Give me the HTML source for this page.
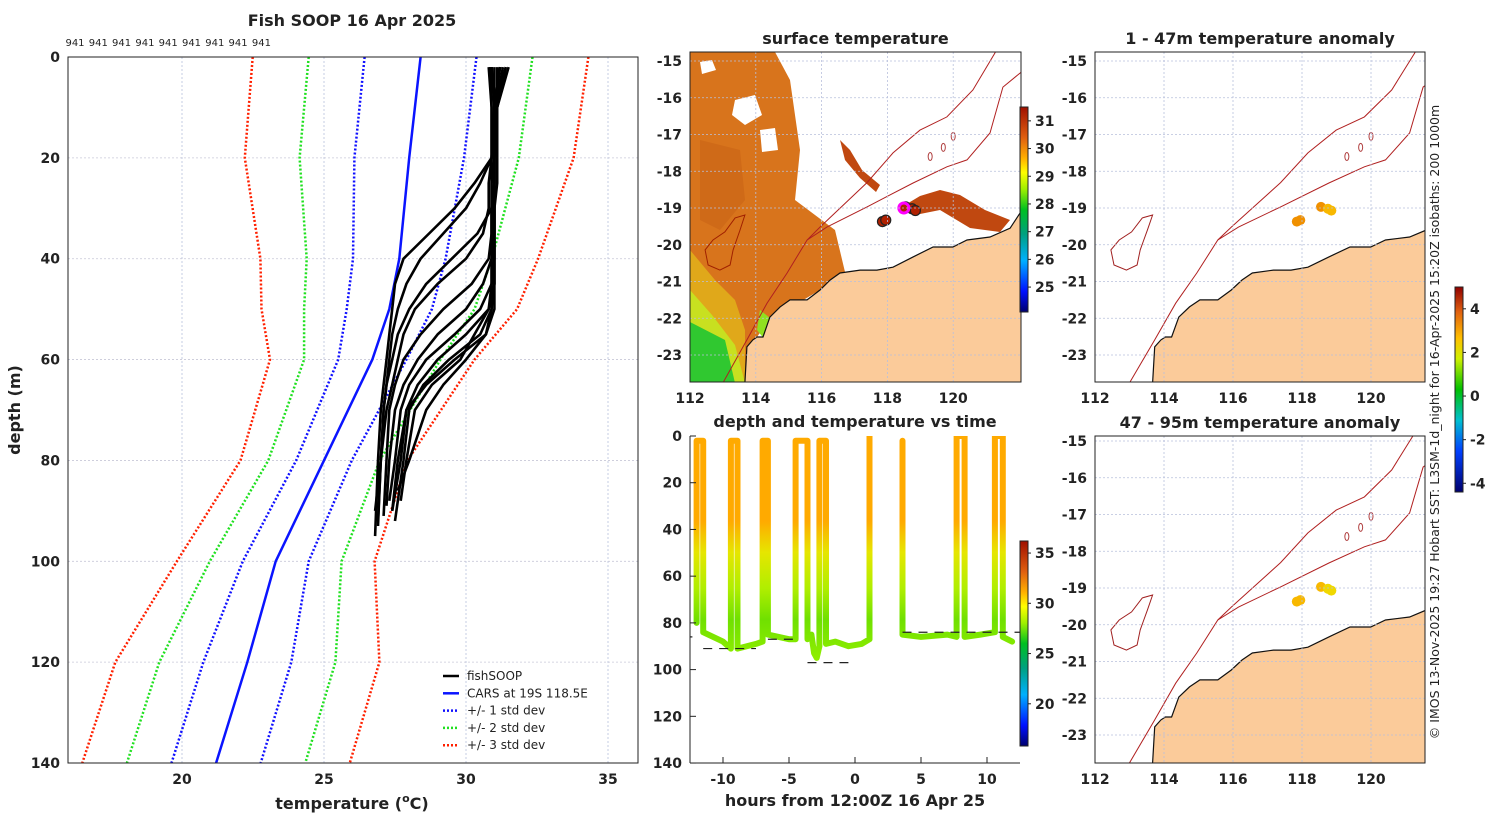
<!DOCTYPE html>
<html><head><meta charset="utf-8"><style>
html,body{margin:0;padding:0;background:#fff;}
svg{display:block;font-family:"DejaVu Sans","Liberation Sans",sans-serif;}
.t{font-weight:bold;font-size:16px;fill:#222;}
.tk{font-weight:bold;font-size:14px;fill:#222;}
</style></head><body>
<svg id="fig" width="1500" height="820" viewBox="0 0 1500 820" xmlns="http://www.w3.org/2000/svg">
<defs>
<linearGradient id="sstcb" x1="0" y1="1" x2="0" y2="0">
<stop offset="0" stop-color="#00006e"/><stop offset="0.1" stop-color="#0010ff"/><stop offset="0.25" stop-color="#00b0ff"/>
<stop offset="0.38" stop-color="#00a080"/><stop offset="0.5" stop-color="#00c020"/><stop offset="0.6" stop-color="#a0f000"/>
<stop offset="0.68" stop-color="#ffff00"/><stop offset="0.75" stop-color="#ffb000"/><stop offset="0.85" stop-color="#e06010"/>
<stop offset="1" stop-color="#a01000"/></linearGradient>
<linearGradient id="anomcb" x1="0" y1="1" x2="0" y2="0">
<stop offset="0" stop-color="#00006e"/><stop offset="0.2" stop-color="#0040ff"/><stop offset="0.35" stop-color="#00c0d0"/>
<stop offset="0.5" stop-color="#00c000"/><stop offset="0.65" stop-color="#d0f000"/><stop offset="0.75" stop-color="#ffc000"/>
<stop offset="0.88" stop-color="#e06010"/><stop offset="1" stop-color="#900000"/></linearGradient>
<linearGradient id="towgrad" gradientUnits="userSpaceOnUse" x1="0" y1="436" x2="0" y2="660">
<stop offset="0" stop-color="#ffaa00"/><stop offset="0.38" stop-color="#ffaa00"/><stop offset="0.52" stop-color="#e6e600"/>
<stop offset="0.68" stop-color="#b0ee00"/><stop offset="0.82" stop-color="#70e000"/><stop offset="1" stop-color="#90ee00"/></linearGradient>
<clipPath id="cSST"><rect x="690" y="52" width="331" height="330"/></clipPath>
<clipPath id="cA1"><rect x="1095" y="52" width="330" height="330"/></clipPath>
<clipPath id="cA2"><rect x="1095" y="436" width="330" height="327"/></clipPath>
<clipPath id="cT"><rect x="690" y="436" width="330" height="327"/></clipPath>
</defs>
</svg>
<script>
// ---------- profile data ----------
const cDepths=[0,20,40,50,60,80,100,120,140];
const cMean=[28.4,28.0,27.65,27.3,26.7,25.0,23.3,22.3,21.2];
const cStd=[1.97,1.93,1.63,1.5,1.2,0.98,1.16,1.55,1.57];
const fDepths=[2,10,20,25,30,35,40,45,50,55,60,65,70,80,90];
const fTemps=[
[31.4,31.0,30.9,30.3,29.6,28.7,27.8,27.5,27.4,27.3,27.2,27.1,27.0,26.9,26.8],
[30.9,31.0,30.9,30.5,30.0,29.2,28.4,27.9,27.6,27.4,27.3,27.2,27.1,27.0,26.9],
[31.5,31.1,31.0,31.0,30.9,30.4,29.5,28.6,28.0,27.6,27.4,27.2,27.1,27.0,26.9],
[30.8,30.9,30.9,30.8,30.8,30.6,30.0,29.0,28.2,27.8,27.6,27.4,27.2,27.0,26.8],
[31.2,31.0,31.0,30.9,30.9,30.9,30.8,30.2,29.2,28.4,27.8,27.5,27.3,27.2,27.1],
[31.3,31.05,31.0,31.0,31.0,31.0,30.9,30.6,30.0,29.0,28.3,27.8,27.5,27.3,27.2],
[31.1,31.1,31.0,31.0,31.0,31.0,31.0,30.9,30.5,29.6,28.6,28.0,27.7,27.5,27.3],
[30.9,31.0,31.0,31.0,31.0,31.0,31.0,31.0,30.8,30.0,29.0,28.3,27.9,27.6,27.4],
[31.4,31.1,31.1,31.1,31.0,31.0,31.0,31.0,30.9,30.5,29.4,28.5,28.0,27.8,27.5],
[30.85,30.9,30.9,30.9,30.9,30.9,30.9,30.9,30.8,30.3,29.8,28.8,28.2,27.9,27.7],
[31.0,31.0,31.0,31.0,31.0,31.0,31.0,31.0,31.0,30.7,30.0,29.2,28.6,28.0,27.6],
[31.2,31.0,31.0,31.0,30.9,30.9,30.9,30.9,30.9,30.7,29.6,28.6,27.9,27.7,27.4]];
const fEndDepth=[95,92,93,90,91,89,88,90,92,88,86,90];
const profTicksX=[20,25,30,35];
const profTicksY=[0,20,40,60,80,100,120,140];
// ---------- tow data ----------
const towHours=[-12.0,-12.0,-11.5,-11.5,-10,-9.4,-9.4,-8.9,-8.9,-7.5,-7.0,-7.0,-6.6,-6.6,-5,-4.5,-4.5,-3.6,-3.6,-3.3,-3.1,-2.9,-2.7,-2.7,-2.2,-2.2,-1.5,-0.5,0.5,1.1,1.1];
const towDepths=[80,2,2,84,88,91,2,2,91,89,88,2,2,85,87,87,2,2,87,85,93,95,90,2,2,89,88,90,89,87,0];
const tow2Hours=[3.6,3.6,5,7,7.7,7.7,8.3,8.3,9.5,10.6,10.6,11.2,11.2,11.9];
const tow2Depths=[2,85,86,85,86,0,0,86,85,84,0,0,86,88];
const bottomStart=[-13,-11.5,-6.6,-3.6,3.6];
const bottomEnd=[-12.2,-7.5,-4.5,-0.5,12.5];
const bottomDepth=[86,91,87,97,84];
const timeTicksX=[-10,-5,0,5,10];
const timeTicksY=[0,20,40,60,80,100,120,140];
// ---------- map data ----------
const coastLon=[124,122.03,121.73,121.12,120.42,119.99,119.39,118.78,118.17,117.68,117.17,116.56,116.26,115.95,115.56,115.04,114.74,114.43,114.22,114.04,113.91,113.73,113.67,113.6,124];
const coastLat=[-18.5,-19.14,-19.55,-19.79,-19.87,-20.06,-20.06,-20.33,-20.61,-20.69,-20.69,-20.77,-20.96,-21.23,-21.5,-21.5,-21.69,-21.97,-22.51,-22.51,-22.59,-22.78,-23.76,-25,-25];
const isoALon=[121.5,121.27,120.6,119.81,118.99,118.17,117.38,115.95,115.56,114.95,114.34,113.73,113.0,112.6];
const isoALat=[-14.3,-14.78,-15.79,-16.52,-16.88,-17.5,-18.31,-19.52,-19.87,-20.77,-21.59,-22.59,-23.76,-24.5];
const isoBLon=[122.2,122.03,121.51,121.12,120.42,119.81,118.78,117.38,116.16,115.56];
const isoBLat=[-15.2,-15.33,-15.71,-16.96,-17.69,-17.88,-18.32,-18.97,-19.52,-19.87];
const shoalLon=[113.67,113.52,113.31,113.22,112.91,112.55,112.46,112.7,113.06,113.37];
const shoalLat=[-19.19,-19.6,-20.14,-20.55,-20.69,-20.55,-20.14,-19.87,-19.65,-19.27];
const shipLon=[117.85,117.95,118.55,118.75,118.85];
const shipLat=[-19.37,-19.33,-18.97,-19.02,-19.07];
const anomVal=[3.1,3.0,3.2,2.4,2.6];
const anom2Val=[2.5,2.4,2.6,2.1,2.3];
const lonTicks=[112,114,116,118,120];
const latTicks=[-15,-16,-17,-18,-19,-20,-21,-22,-23];
const sstCbTicks=[25,26,27,28,29,30,31];
const timeCbTicks=[20,25,30,35];
const anomCbTicks=[-4,-2,0,2,4];

const NS='http://www.w3.org/2000/svg';
const svg=document.getElementById('fig');
function mk(tag,attrs,parent,name,inter){const e=document.createElementNS(NS,tag);for(const k in attrs)e.setAttribute(k,attrs[k]);(parent||svg).appendChild(e);


return e;}
function txt(s,x,y,cls,anchor,parent,name,extra){const e=mk('text',Object.assign({x:x,y:y,'class':cls,'text-anchor':anchor||'middle'},extra||{}),parent,name);e.textContent=s;return e;}
function poly(xs,ys){return xs.map((x,i)=>x.toFixed(1)+','+ys[i].toFixed(1)).join(' ');}

// ===== Profile panel =====
const px=T=>182+(T-20)*28.4, py=d=>57+d*5.043;
const gP=mk('g',{},svg,'profile-panel');
txt('Fish SOOP 16 Apr 2025',352,26,'t','middle',gP,'profile-title');
for(let i=0;i<9;i++) txt('941',75+i*23.3,46,'',"middle",gP,'profile-count-label',{'font-size':'10px',fill:'#222'});
profTicksX.forEach(v=>{mk('line',{x1:px(v),x2:px(v),y1:57,y2:763,stroke:'#b8c0dc','stroke-width':0.8,'stroke-dasharray':'2,2'},gP,'grid-x');txt(String(v),px(v),784,'tk','middle',gP,'x-tick-label');});
profTicksY.forEach(v=>{if(v>0&&v<140)mk('line',{x1:68,x2:638,y1:py(v),y2:py(v),stroke:'#c8c8d8','stroke-width':0.8,'stroke-dasharray':'2,2'},gP,'grid-y');txt(String(v),60,py(v)+5,'tk','end',gP,'y-tick-label');});
const cols={'-3':'#ff2000','-2':'#20e020','-1':'#1010ff','1':'#1010ff','2':'#20e020','3':'#ff2000'};
[-3,-2,-1,1,2,3].forEach(k=>{mk('polyline',{points:poly(cDepths.map((d,i)=>px(cMean[i]+k*cStd[i])),cDepths.map(py)),fill:'none',stroke:cols[k],'stroke-width':2.5,'stroke-dasharray':'2,2'},gP,'std-dev-line');});
mk('polyline',{points:poly(cMean.map(px),cDepths.map(py)),fill:'none',stroke:'#0a14ff','stroke-width':2.5},gP,'cars-mean-line');
fTemps.forEach((row,j)=>{const ds=fDepths.slice();ds[ds.length-1]=fEndDepth[j];mk('polyline',{points:poly(row.map(px),ds.map(py)),fill:'none',stroke:'#000','stroke-width':2.6,'stroke-linejoin':'round'},gP,'fishsoop-profile');});
mk('rect',{x:68,y:57,width:570,height:706,fill:'none',stroke:'#222','stroke-width':1},gP,'profile-axes-box');
txt('depth (m)',20,410,'t','middle',gP,'y-axis-title',{transform:'rotate(-90 20 410)'});
const xt=txt('',352,809,'t','middle',gP,'x-axis-title');xt.innerHTML='temperature (<tspan font-size="11" dy="-7">o</tspan><tspan dy="7">C)</tspan>';
const leg=[['fishSOOP','#000',''],['CARS at 19S 118.5E','#0a14ff',''],['+/- 1 std dev','#1010ff','2,2'],['+/- 2 std dev','#20e020','2,2'],['+/- 3 std dev','#ff2000','2,2']];
leg.forEach((l,i)=>{const y=676+i*17.3;mk('line',{x1:443,x2:459,y1:y,y2:y,stroke:l[1],'stroke-width':2.5,'stroke-dasharray':l[2]||'none'},gP,'legend-swatch');txt(l[0],467,y+4,'','start',gP,'legend-entry',{'font-size':'12px',fill:'#222'});});

// ===== Maps =====
function drawMap(o){
  const lx=lon=>o.x0+(lon-112)*o.kx, ly=lat=>o.ly0+(-15-lat)*36.75;
  const g=mk('g',{},svg,o.name);
  const gc=mk('g',{'clip-path':'url(#'+o.clip+')'},g,o.name+'-content');
  mk('rect',{x:o.bx,y:o.by,width:o.bw,height:o.bh,fill:'#fff'},gc,'map-background');
  if(o.sst){
    mk('polygon',{points:'690,52 775,52 790,80 800,150 795,200 815,215 835,230 845,272 820,290 800,302 770,318 755,340 745,383 690,383',fill:'#d8741c'},gc,'sst-field');
    mk('polygon',{points:'700,62 712,60 716,70 702,74',fill:'#fff'},gc,'sst-cloud-gap');
    mk('polygon',{points:'735,100 755,95 762,115 745,125 732,115',fill:'#fff'},gc,'sst-cloud-gap');
    mk('polygon',{points:'760,130 775,128 778,150 762,152',fill:'#fff'},gc,'sst-cloud-gap');
    mk('polygon',{points:'700,140 740,150 745,200 720,230 700,220',fill:'#cf6a18'},gc,'sst-field-dark');
    mk('polygon',{points:'690,250 715,280 735,300 745,330 745,383 690,383',fill:'#e0a81a'},gc,'sst-field-yellow');
    mk('polygon',{points:'690,290 712,315 735,345 745,383 690,383',fill:'#c8e020'},gc,'sst-field-yellowgreen');
    mk('polygon',{points:'690,322 725,340 735,383 690,383',fill:'#30c830'},gc,'sst-field-green');
    mk('polygon',{points:'760,310 770,318 765,340 757,330',fill:'#90e020'},gc,'sst-field-green2');
    mk('polygon',{points:'840,140 850,150 862,170 880,185 876,192 860,178 845,160',fill:'#c04810'},gc,'sst-warm-streak');
    mk('polygon',{points:'940,190 960,195 985,210 1010,220 1000,232 970,228 940,210 915,215 905,205 920,196',fill:'#c04810'},gc,'sst-warm-patch');
  }
  mk('polygon',{points:poly(coastLon.map(lx),coastLat.map(ly)),fill:'#fbcb9a',stroke:'#111','stroke-width':1.2},gc,'land');
  mk('polygon',{points:poly(shoalLon.map(lx),shoalLat.map(ly)),fill:o.sst?'none':'#fff',stroke:o.sst?'#a02000':'#a02020','stroke-width':1},gc,'shoal-contour');
  mk('polyline',{points:poly(isoALon.map(lx),isoALat.map(ly)),fill:'none',stroke:'#b02020','stroke-width':1},gc,'isobath-1000m');
  mk('polyline',{points:poly(isoBLon.map(lx),isoBLat.map(ly)),fill:'none',stroke:'#b02020','stroke-width':1},gc,'isobath-200m');
  [[119.3,-17.6],[119.7,-17.35],[120.0,-17.05]].forEach(p=>mk('ellipse',{cx:lx(p[0]),cy:ly(p[1]),rx:2,ry:4,fill:'none',stroke:'#b04040','stroke-width':1},gc,'seamount-contour'));
  lonTicks.forEach(v=>{mk('line',{x1:lx(v),x2:lx(v),y1:o.by,y2:o.by+o.bh,stroke:'#b8c0dc','stroke-width':0.8,'stroke-dasharray':'2,2'},g,'grid-lon');txt(String(v),lx(v),o.by+o.bh+21,'tk','middle',g,'lon-tick-label');});
  latTicks.forEach(v=>{const y=ly(v);if(y<o.by||y>o.by+o.bh)return;mk('line',{x1:o.bx,x2:o.bx+o.bw,y1:y,y2:y,stroke:'#b8c0dc','stroke-width':0.8,'stroke-dasharray':'2,2'},g,'grid-lat');txt(String(v),o.bx-8,y+5,'tk','end',g,'lat-tick-label');});
  if(o.sst){
    shipLon.forEach((lo,i)=>mk('circle',{cx:lx(lo),cy:ly(shipLat[i]),r:5,fill:'#b02000',stroke:'#222','stroke-width':1.2},gc,'ship-sst-point'));
    mk('circle',{cx:lx(118.5),cy:ly(-19.0),r:5,fill:'#b02000',stroke:'#ff00ff','stroke-width':3},gc,'cars-location-marker');
  } else {
    const vals=o.vals;
    shipLon.forEach((lo,i)=>mk('circle',{cx:lx(lo),cy:ly(shipLat[i]),r:5,fill:vals[i]>2.8?'#f09000':(vals[i]>2.3?'#f8b800':'#f0d800')},gc,'anomaly-point'));
  }
  mk('rect',{x:o.bx,y:o.by,width:o.bw,height:o.bh,fill:'none',stroke:'#222','stroke-width':1},g,'map-axes-box');
  txt(o.title,o.bx+o.bw/2,o.by-8,'t','middle',g,'map-title');
}
drawMap({name:'sst-map',sst:true,x0:690,kx:32.9,ly0:61,bx:690,by:52,bw:331,bh:330,clip:'cSST',title:'surface temperature'});
drawMap({name:'anomaly-map-shallow',x0:1095,kx:34.5,ly0:61,bx:1095,by:52,bw:330,bh:330,clip:'cA1',title:'1 - 47m temperature anomaly',vals:anomVal});
drawMap({name:'anomaly-map-deep',x0:1095,kx:34.5,ly0:441,bx:1095,by:436,bw:330,bh:327,clip:'cA2',title:'47 - 95m temperature anomaly',vals:anom2Val});

// ===== colorbars =====
function cbar(x,y0,y1,grad,ticks,vmin,vmax,name){
  const g=mk('g',{},svg,name);
  mk('rect',{x:x,y:y0,width:8,height:y1-y0,fill:'url(#'+grad+')',stroke:'#222','stroke-width':1},g,name+'-bar');
  ticks.forEach(v=>{const y=y1-(v-vmin)/(vmax-vmin)*(y1-y0);mk('line',{x1:x+8,x2:x+11,y1:y,y2:y,stroke:'#222'},g,'colorbar-tick');txt(String(v),x+15,y+5,'tk','start',g,'colorbar-label',{'font-size':'13px'});});
}
cbar(1020,107,312,'sstcb',sstCbTicks,24.1,31.5,'sst-colorbar');
cbar(1020,541,746,'sstcb',timeCbTicks,15.8,36.2,'time-colorbar');
cbar(1455,287,492,'anomcb',anomCbTicks,-4.4,5.0,'anomaly-colorbar');

// ===== time panel =====
const tx=h=>855+h*13.2, ty=d=>436+d*2.336;
const gT=mk('g',{},svg,'time-panel');
const gTc=mk('g',{'clip-path':'url(#cT)'},gT,'time-content');
mk('polyline',{points:poly(towHours.map(tx),towDepths.map(ty)),fill:'none',stroke:'url(#towgrad)','stroke-width':6,'stroke-linejoin':'round','stroke-linecap':'round'},gTc,'tow-track-1');
mk('polyline',{points:poly(tow2Hours.map(tx),tow2Depths.map(ty)),fill:'none',stroke:'url(#towgrad)','stroke-width':6,'stroke-linejoin':'round','stroke-linecap':'round'},gTc,'tow-track-2');
bottomStart.forEach((s,i)=>mk('line',{x1:tx(s),x2:tx(bottomEnd[i]),y1:ty(bottomDepth[i]),y2:ty(bottomDepth[i]),stroke:'#222','stroke-width':1.2,'stroke-dasharray':'9,7'},gTc,'bottom-depth-line'));
timeTicksX.forEach(v=>{mk('line',{x1:tx(v),x2:tx(v),y1:757,y2:763,stroke:'#222'},gT,'x-tick');txt(String(v),tx(v),784,'tk','middle',gT,'time-tick-label');});
timeTicksY.forEach(v=>{mk('line',{x1:690,x2:696,y1:ty(v),y2:ty(v),stroke:'#222'},gT,'y-tick');txt(String(v),682,ty(v)+5,'tk','end',gT,'depth-tick-label');});
mk('line',{x1:690,x2:690,y1:436,y2:763,stroke:'#222'},gT,'time-y-axis');
mk('line',{x1:690,x2:1020,y1:763,y2:763,stroke:'#222'},gT,'time-x-axis');
txt('depth and temperature vs time',855,427,'t','middle',gT,'time-title');
txt('hours from 12:00Z 16 Apr 25',855,806,'t','middle',gT,'time-x-axis-title');

txt('© IMOS 13-Nov-2025 19:27 Hobart SST: L3SM-1d_night for 16-Apr-2025 15:20Z isobaths: 200  1000m',1439,422,'','middle',svg,'credit-text',{'font-size':'12.5px',fill:'#222',transform:'rotate(-90 1439 422)'});
</script>
</body></html>
